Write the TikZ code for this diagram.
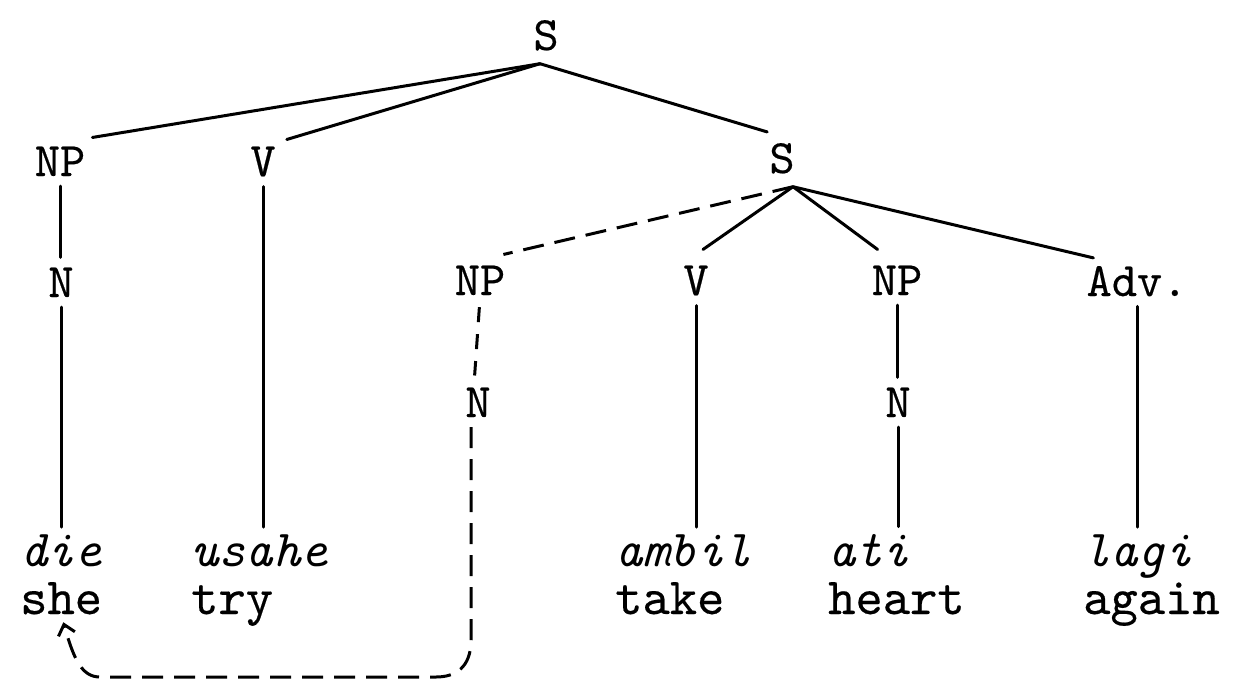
\documentclass[tikz,border=0pt]{standalone}
\usepackage{fontspec}
\usetikzlibrary{arrows.meta,calc}
\newfontfamily\typewriter{lmmono10-regular.otf}[ItalicFont=lmmono10-italic.otf, UprightFeatures={FakeBold=0.35}]
\newcommand{\labfont}{\typewriter\fontsize{48}{52}\selectfont}
\newcommand{\glossfont}{\typewriter\fontsize{52}{56}\selectfont}
\tikzset{
  lab/.style={font=\labfont, inner sep=3pt, anchor=base},
  word/.style={font=\glossfont, inner sep=0pt, anchor=base west},
  malay/.style={word, font=\glossfont\itshape},
  branch/.style={line width=3pt, line cap=round},
  vline/.style={branch, shorten <=7pt, shorten >=7pt},
  dashbranch/.style={line width=3pt, dash pattern=on 21pt off 11pt},
}
\begin{document}
\begin{tikzpicture}[x=1pt,y=-1pt]
\path[use as bounding box] (0,0) rectangle (1233,680);

% category labels
\node[lab] (s0)  at (546,50)  {S};
\node[lab] (np1) at (60,176)  {NP};
\node[lab] (v1)  at (263,176) {V};
\node[lab] (s1)  at (782,173) {S};
\node[lab] (n1)  at (61,297)  {N};
\node[lab] (np2) at (480,295) {NP};
\node[lab] (v2)  at (696,295) {V};
\node[lab] (np3) at (897,295) {NP};
\node[lab] (adv) at (1137,296) {Adv.};
\node[lab] (n2)  at (478,417) {N};
\node[lab] (n3)  at (898,417) {N};

% Malay words and English glosses
\node[malay] (die)   at (20,566)   {die};
\node[malay] (usahe) at (191,566)  {usahe};
\node[malay] (ambil) at (615,566)  {ambil};
\node[malay] (ati)   at (828,566)  {ati};
\node[malay] (lagi)  at (1083,566) {lagi};
\node[word]  (she)   at (20,614)   {she};
\node[word]  (try)   at (191,614)  {try};
\node[word]  (take)  at (615,614)  {take};
\node[word]  (heart) at (828,614)  {heart};
\node[word]  (again) at (1083,614) {again};

% branching points below the two S labels
\coordinate (top)  at ([xshift=-6pt,yshift=-10pt]s0.south);
\coordinate (low)  at ([xshift=11pt,yshift=-10pt]s1.south);

% upper clause
\draw[branch] (top) -- ([shift={(4pt,6pt)}]np1.north east);
\draw[branch] (top) -- ([shift={(8pt,4pt)}]v1.north east);
\draw[branch] (top) -- ([shift={(1pt,8pt)}]s1.north west);
\draw[vline] (np1.south) -- (np1.south |- n1.north);
\draw[vline] (n1.south) -- (n1.south |- die.north);
\draw[vline] (v1.south) -- (v1.south |- usahe.north);

% embedded clause
\draw[dashbranch] (low) -- ([shift={(-5pt,8pt)}]np2.north east);
\draw[branch] (low) -- ([shift={(7pt,13pt)}]v2.north);
\draw[branch] (low) -- ([shift={(9pt,13pt)}]np3.north west);
\draw[branch] (low) -- ([shift={(10pt,5pt)}]adv.north west);
\draw[line width=3pt, dash pattern=on 15pt off 12pt, shorten <=9pt, shorten >=9pt]
  (np2.south) -- ([xshift=-4pt]n2.north);
\draw[vline] (v2.south) -- (v2.south |- ambil.north);
\draw[vline] (np3.south) -- (np3.south |- n3.north);
\draw[vline] (n3.south) -- (n3.south |- ati.north);
\draw[vline] (adv.south) -- (adv.south |- lagi.north);

% coreference link back to the subject
\draw[dashbranch, shorten <=7pt, shorten >=8pt, -{Straight Barb[length=10pt,width=17pt,line width=3pt]}]
  ([xshift=-7pt]n2.south) -- (471,640)
  .. controls (471,668) and (455,677) .. (436,677)
  -- (100,677)
  .. controls (82,677) and (74,660) .. (she.south);
\end{tikzpicture}
\end{document}
